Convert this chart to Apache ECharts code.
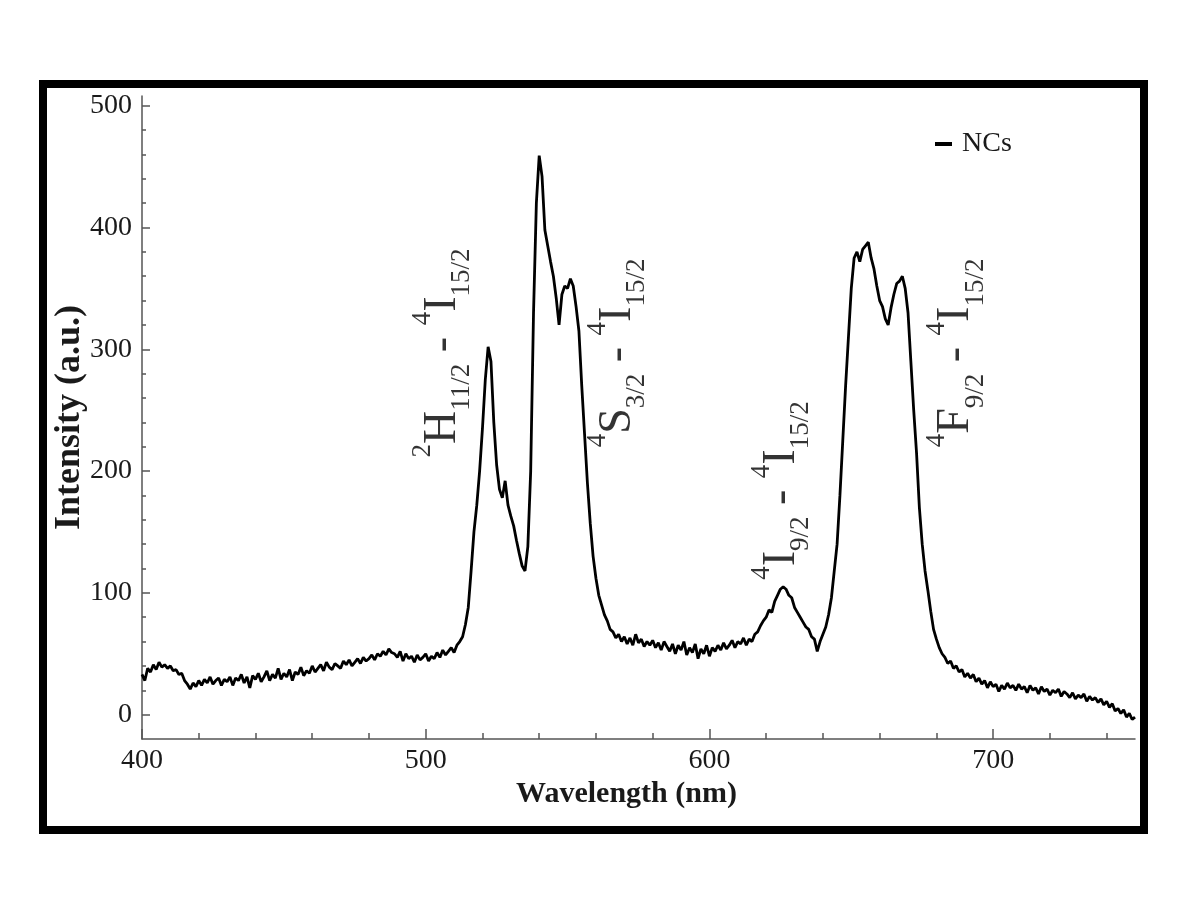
<!DOCTYPE html>
<html>
<head>
<meta charset="utf-8">
<script src="https://cdn.jsdelivr.net/npm/echarts@6/dist/echarts.min.js"></script>
<style>
  html, body { margin: 0; padding: 0; background: #fff; }
  #chart { width: 1200px; height: 922px; }
</style>
</head>
<body>
<div id="chart"></div>
<script>
// ---- Data ----
const seriesName = 'NCs';
const wavelengthStart = 400;   // nm, first sample
const wavelengthStep = 1;      // nm between samples
// Intensity (a.u.), 400 ... 750 nm
const intensity = [
  33, 28, 38, 35, 41, 37, 43, 39, 41, 38,
  40, 36, 37, 33, 34, 28, 25, 21, 26, 23,
  28, 24, 29, 26, 31, 25, 28, 30, 24, 29,
  27, 31, 24, 30, 28, 33, 26, 31, 22, 32,
  29, 34, 27, 31, 36, 28, 33, 30, 38, 29,
  34, 31, 37, 28, 35, 33, 39, 32, 36, 34,
  40, 35, 38, 41, 36, 43, 39, 37, 42, 40,
  38, 44, 41, 45, 40, 43, 46, 42, 47, 44,
  46, 49, 45, 50, 48, 52, 49, 54, 51, 50,
  47, 52, 44, 50, 46, 48, 43, 49, 45, 47,
  50, 44, 48, 46, 51, 47, 53, 49, 52, 55,
  51, 57, 60, 64, 74, 88, 118, 150, 172, 200,
  235, 275, 302, 290, 240, 205, 185, 178, 192, 172,
  163, 155, 143, 132, 122, 118, 138, 200, 330, 420,
  459, 442, 398, 385, 372, 360, 342, 320, 345, 352,
  350, 358, 352, 335, 315, 270, 230, 190, 157, 130,
  112, 98, 90, 82, 77, 70, 68, 63, 66, 60,
  64, 58, 63, 57, 66, 59, 62, 56, 60, 57,
  61, 55, 59, 53, 60, 56, 52, 58, 50, 57,
  53, 60, 49, 55, 51, 58, 46, 54, 50, 57,
  48, 55, 52, 57, 53, 59, 54, 57, 61, 55,
  60, 58, 63, 57, 62, 60, 66, 68, 73, 77,
  80, 86, 84, 93, 98, 103, 105, 103, 98, 96,
  88, 84, 80, 76, 72, 70, 64, 62, 52, 60,
  66, 72, 82, 96, 118, 140, 180, 225, 270, 310,
  350, 375, 380, 372, 382, 385, 388, 375, 366, 352,
  340, 335, 325, 320, 334, 345, 354, 356, 360, 350,
  330, 290, 250, 215, 170, 140, 118, 102, 85, 70,
  62, 55, 50, 47, 42, 44, 38, 40, 35, 37,
  31, 34, 30, 33, 27, 30, 25, 28, 22, 27,
  23, 25, 19, 24, 21, 26, 22, 24, 20, 25,
  21, 23, 18, 24, 20, 22, 17, 23, 19, 21,
  16, 20, 18, 21, 15, 19, 17, 14, 18, 13,
  16, 14, 17, 11, 15, 12, 14, 10, 13, 8,
  11, 6, 9, 3, 5, 1, 4, -2, 1, -4,
  -2
];

const xMin = 400, xMax = 750;
const yMin = -20, yMax = 508;
const xTicks = [400, 500, 600, 700];
const xMinorTicks = [420, 440, 460, 480, 520, 540, 560, 580, 620, 640, 660, 680, 720, 740];
const yTicks = [0, 100, 200, 300, 400, 500];
const yMinorTicks = [20, 40, 60, 80, 120, 140, 160, 180, 220, 240, 260, 280, 320, 340, 360, 380, 420, 440, 460, 480];

const xAxisTitle = 'Wavelength (nm)';
const yAxisTitle = 'Intensity (a.u.)';

// Transition labels: [upper sup, upper term, upper sub, lower sup, lower term, lower sub]
const transitionTerms = [
  ['2', 'H', '11/2', '4', 'I', '15/2'],
  ['4', 'S', '3/2', '4', 'I', '15/2'],
  ['4', 'I', '9/2', '4', 'I', '15/2'],
  ['4', 'F', '9/2', '4', 'I', '15/2']
];
const transitionX = [506, 567.7, 625.4, 687];
const transitionY = [297, 297, 184, 297];

// ---- Chart ----
const serif = "'Liberation Serif', 'Times New Roman', 'DejaVu Serif', serif";
const axisColor = '#555';
const textColor = '#1a1a1a';

const lineData = intensity.map((v, i) => [wavelengthStart + i * wavelengthStep, v]);
const labelData = transitionX.map((x, i) => [x, transitionY[i]]);
const labelText = transitionTerms.map(t =>
  `{sup|${t[0]}}{m|${t[1]}}{sub|${t[2]}}{m| - }{sup|${t[3]}}{m|${t[4]}}{sub|${t[5]}}`
);

const chart = echarts.init(document.getElementById('chart'), null, { renderer: 'canvas' });

const option = {
  backgroundColor: '#ffffff',
  animation: false,
  textStyle: { fontFamily: serif },
  grid: { left: 142, right: 65, top: 96, bottom: 183, containLabel: false },
  legend: {
    data: [{ name: seriesName, icon: 'rect' }],
    left: 930,
    top: 125,
    itemWidth: 17,
    itemHeight: 4,
    textStyle: { fontFamily: serif, fontSize: 28, color: textColor, padding: [0, 0, 0, 5] },
    itemStyle: { color: '#000' }
  },
  xAxis: [
    {
      type: 'value', min: xMin, max: xMax, position: 'bottom',
      name: xAxisTitle, nameLocation: 'middle', nameGap: 40, nameMoveOverlap: false,
      nameTextStyle: { fontFamily: serif, fontSize: 30, fontWeight: 'bold', color: textColor, padding: [0, 24, 0, 0] },
      axisLine: { show: true, onZero: false, lineStyle: { color: axisColor, width: 1.5 } },
      axisTick: { show: true, inside: true, length: 10, customValues: xTicks, lineStyle: { color: axisColor, width: 1.5 } },
      axisLabel: { show: true, customValues: xTicks, margin: 8, fontFamily: serif, fontSize: 28, color: textColor },
      splitLine: { show: false }
    },
    {
      type: 'value', min: xMin, max: xMax, position: 'bottom',
      axisLine: { show: false, onZero: false },
      axisTick: { show: true, inside: true, length: 6, customValues: xMinorTicks, lineStyle: { color: axisColor, width: 1.5 } },
      axisLabel: { show: false },
      splitLine: { show: false }
    }
  ],
  yAxis: [
    {
      type: 'value', min: yMin, max: yMax, position: 'left',
      name: yAxisTitle, nameLocation: 'middle', nameGap: 54, nameMoveOverlap: false,
      nameTextStyle: { fontFamily: serif, fontSize: 36, fontWeight: 'bold', color: textColor },
      axisLine: { show: true, onZero: false, lineStyle: { color: axisColor, width: 1.5 } },
      axisTick: { show: true, inside: true, length: 8, customValues: yTicks, lineStyle: { color: axisColor, width: 1.5 } },
      axisLabel: { show: true, customValues: yTicks, margin: 10, fontFamily: serif, fontSize: 28, color: textColor },
      splitLine: { show: false }
    },
    {
      type: 'value', min: yMin, max: yMax, position: 'left',
      axisLine: { show: false, onZero: false },
      axisTick: { show: true, inside: true, length: 4, customValues: yMinorTicks, lineStyle: { color: axisColor, width: 1.5 } },
      axisLabel: { show: false },
      splitLine: { show: false }
    }
  ],
  graphic: [
    {
      type: 'rect', z: 100, silent: true,
      shape: { x: 43, y: 84, width: 1101, height: 746 },
      style: { fill: 'none', stroke: '#000', lineWidth: 8 }
    }
  ],
  series: [
    {
      name: seriesName,
      type: 'line',
      xAxisIndex: 0, yAxisIndex: 0,
      data: lineData,
      showSymbol: false,
      symbol: 'none',
      lineStyle: { color: '#000', width: 2.8 },
      itemStyle: { color: '#000' },
      z: 3
    },
    {
      name: 'transitions',
      type: 'scatter',
      xAxisIndex: 0, yAxisIndex: 0,
      data: labelData,
      symbolSize: 1,
      itemStyle: { color: 'rgba(0,0,0,0)' },
      silent: true,
      z: 4,
      label: {
        show: true,
        position: 'inside',
        rotate: 90,
        color: '#000',
        formatter: p => labelText[p.dataIndex],
        rich: {
          m:   { fontFamily: serif, fontSize: 46, lineHeight: 66, verticalAlign: 'middle', color: '#000' },
          sup: { fontFamily: serif, fontSize: 27, lineHeight: 26, verticalAlign: 'top', color: '#000' },
          sub: { fontFamily: serif, fontSize: 27, lineHeight: 26, verticalAlign: 'bottom', color: '#000' }
        }
      }
    }
  ]
};

chart.setOption(option);
</script>
</body>
</html>
